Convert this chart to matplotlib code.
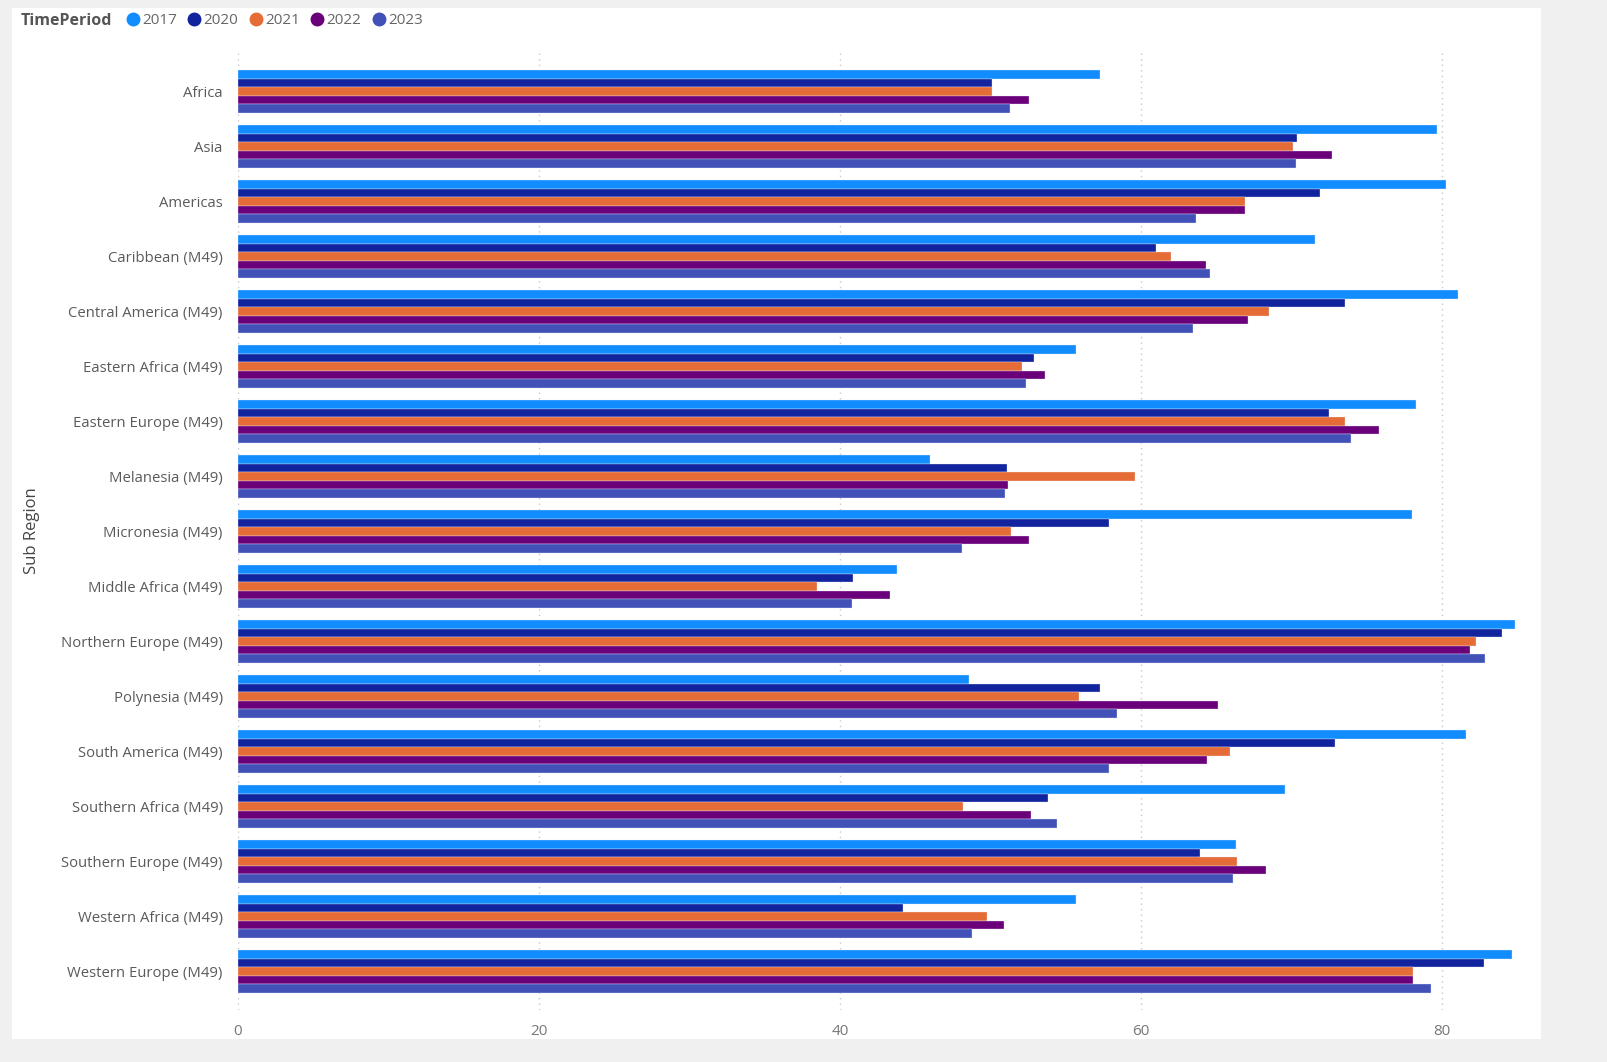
import numpy as np
import matplotlib
matplotlib.use("Agg")
import matplotlib.pyplot as plt
from matplotlib.lines import Line2D

regions = ["Africa", "Asia", "Americas", "Caribbean (M49)", "Central America (M49)",
           "Eastern Africa (M49)", "Eastern Europe (M49)", "Melanesia (M49)",
           "Micronesia (M49)", "Middle Africa (M49)", "Northern Europe (M49)",
           "Polynesia (M49)", "South America (M49)", "Southern Africa (M49)",
           "Southern Europe (M49)", "Western Africa (M49)", "Western Europe (M49)"]
years = ["2017", "2020", "2021", "2022", "2023"]

v2017 = [57.3, 79.7, 80.3, 71.6, 81.1, 55.7, 78.3, 46.0, 78.0, 43.8, 84.9, 48.6, 81.6, 69.6, 66.3, 55.7, 84.7]
v2020 = [50.1, 70.4, 71.9, 61.0, 73.6, 52.9, 72.5, 51.1, 57.9, 40.9, 84.0, 57.3, 72.9, 53.8, 63.9, 44.2, 82.8]
v2021 = [50.1, 70.1, 66.9, 62.0, 68.5, 52.1, 73.6, 59.6, 51.4, 38.5, 82.3, 55.9, 65.9, 48.2, 66.4, 49.8, 78.1]
v2022 = [52.6, 72.7, 66.9, 64.3, 67.1, 53.6, 75.8, 51.2, 52.6, 43.3, 81.9, 65.1, 64.4, 52.7, 68.3, 50.9, 78.1]
v2023 = [51.3, 70.3, 63.7, 64.6, 63.5, 52.4, 74.0, 51.0, 48.1, 40.8, 82.9, 58.4, 57.9, 54.4, 66.1, 48.8, 79.3]

colors = ["#118DFF", "#12239E", "#E66C37", "#6B007B", "#4151B8"]
series = [v2017, v2020, v2021, v2022, v2023]

fig = plt.figure(figsize=(16.08, 10.62), dpi=100)
fig.patch.set_facecolor("#F0F0F0")
# white visual panel
fig.add_artist(plt.Rectangle((12 / 1608, 1 - 1039 / 1062), (1541 - 12) / 1608, (1039 - 8) / 1062,
                             transform=fig.transFigure, facecolor="white", edgecolor="none", zorder=0))

ax = fig.add_axes([238 / 1608, 1 - 1010 / 1062, (1517 - 238) / 1608, (1010 - 52) / 1062])
ax.patch.set_alpha(0)

y = np.arange(len(regions))
h = 0.77 / 5
for i, (vals, c) in enumerate(zip(series, colors)):
    ax.barh(y - 0.385 + h * (i + 0.5), vals, height=h, color=c, edgecolor="#E8EAF6",
            linewidth=0.25, zorder=3)

ax.set_xlim(0, 85)
ax.set_ylim(len(regions) - 0.3, -0.72)
ax.set_yticks(y)
ax.set_yticklabels(regions, fontsize=10.7, color="#5A5A5A", family="Open Sans")
ax.set_xticks([0, 20, 40, 60, 80])
ax.set_xticklabels(["0", "20", "40", "60", "80"], fontsize=11, color="#777777", family="Open Sans")
ax.tick_params(axis="y", length=0, pad=11)
ax.tick_params(axis="x", length=0, pad=10)
ax.grid(axis="x", color="#C8C8C8", linestyle=(0, (1, 3)), linewidth=1, zorder=0)
for s in ax.spines.values():
    s.set_visible(False)

fig.text(32 / 1608, 1 - 531 / 1062, "Sub Region", rotation=90, va="center", ha="center",
         fontsize=12, color="#444444", family="Open Sans")

# legend
fig.text(21 / 1608, 1 - 21 / 1062, "TimePeriod", fontsize=11.5, fontweight="bold",
         color="#555555", va="center", family="Open Sans")
handles = [Line2D([], [], marker="o", linestyle="", markersize=9, markerfacecolor=c,
                  markeredgecolor=c) for c in colors]
leg = fig.legend(handles, years, loc="center left", bbox_to_anchor=(122 / 1608, 1 - 21 / 1062),
                 ncol=5, frameon=False, handletextpad=-0.1, handlelength=1.4, columnspacing=0.45,
                 prop={"family": "Open Sans", "size": 11}, borderaxespad=0, borderpad=0)
for t in leg.get_texts():
    t.set_color("#666666")

fig.savefig("out.png", dpi=100, facecolor=fig.get_facecolor())
